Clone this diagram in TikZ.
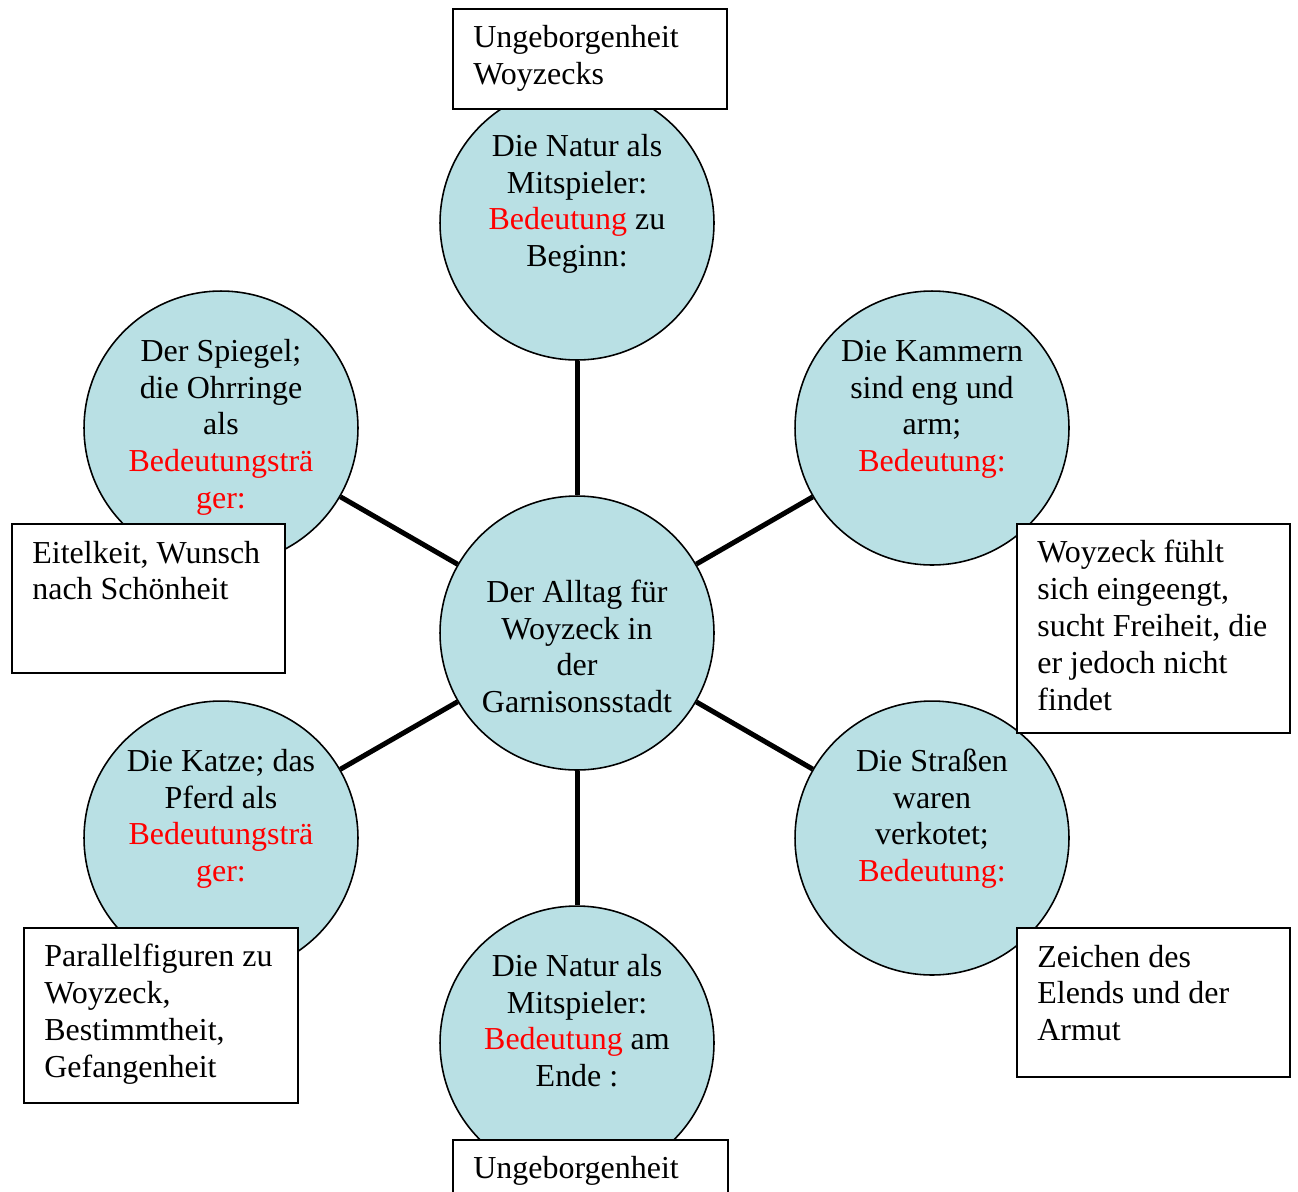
\documentclass[tikz,border=0pt]{standalone}
\usepackage{fontspec}
\setmainfont{Liberation Serif}
\definecolor{kreisblau}{RGB}{185,224,228}
\begin{document}
\begin{tikzpicture}[x=0.02cm,y=-0.02cm,
        kreis/.style={circle,draw,line width=0.9pt,fill=kreisblau,minimum size=5.48cm,inner sep=0pt},
        kasten/.style={rectangle,draw,line width=0.9pt,fill=white,inner sep=0pt,anchor=north west},
        ktext/.style={font=\fontsize{18.2pt}{20.95pt}\selectfont,align=center,anchor=base,inner sep=0pt},
        btext/.style={font=\fontsize{18.2pt}{20.95pt}\selectfont,align=left,anchor=base west,inner sep=0pt},
        linie/.style={line width=2.85pt}]
        \useasboundingbox (0,0) rectangle (1298,1191);
        \node[kreis] (mitte) at (577,633) {}; %mitte
        \node[kreis] (oben) at (577,223) {};
        \node[kreis] (unten) at (577,1043) {};
        \node[kreis] (obenlinks) at (221,428) {};
        \node[kreis] (obenrechts) at (932,428) {};
        \node[kreis] (untenlinks) at (221,838) {};
        \node[kreis] (untenrechts) at (932,838) {};
        \draw[linie] (mitte)--(oben); \draw[linie] (mitte)--(unten); %verbindungen
        \draw[linie] (mitte)--(obenlinks); \draw[linie] (mitte)--(obenrechts);
        \draw[linie] (mitte)--(untenlinks); \draw[linie] (mitte)--(untenrechts);
        % base = letzte zeile, daher (zeilen-1)*36.8 dazu
        \node[ktext] (mitte-t) at ([shift={(0,107+3*36.8)}]mitte.north) {Der Alltag für\\Woyzeck in\\der\\Garnisonsstadt};
        \node[ktext] (oben-t) at ([shift={(0,71+3*36.8)}]oben.north) {Die Natur als\\Mitspieler:\\\textcolor{red}{Bedeutung} zu\\Beginn:};
        \node[ktext] (unten-t) at ([shift={(0,71+3*36.8)}]unten.north) {Die Natur als\\Mitspieler:\\\textcolor{red}{Bedeutung} am\\Ende :};
        \node[ktext] (obenlinks-t) at ([shift={(0,71+4*36.8)}]obenlinks.north) {Der Spiegel;\\die Ohrringe\\als\\\textcolor{red}{Bedeutungsträ}\\\textcolor{red}{ger:}};
        \node[ktext] (obenrechts-t) at ([shift={(0,71+3*36.8)}]obenrechts.north) {Die Kammern\\sind eng und\\arm;\\\textcolor{red}{Bedeutung:}};
        \node[ktext] (untenlinks-t) at ([shift={(0,71+3*36.8)}]untenlinks.north) {Die Katze; das\\Pferd als\\\textcolor{red}{Bedeutungsträ}\\\textcolor{red}{ger:}};
        \node[ktext] (untenrechts-t) at ([shift={(0,71+3*36.8)}]untenrechts.north) {Die Straßen\\waren\\verkotet;\\\textcolor{red}{Bedeutung:}};
        \node[kasten,minimum width=5.48cm,minimum height=2cm] (k-oben) at (452,8) {}; %kaesten
        \node[kasten,minimum width=5.5cm,minimum height=2cm] (k-unten) at (452,1139) {};
        \node[kasten,minimum width=5.46cm,minimum height=2.98cm] (k-obenlinks) at (11,523) {};
        \node[kasten,minimum width=5.46cm,minimum height=4.18cm] (k-obenrechts) at (1016,523) {};
        \node[kasten,minimum width=5.48cm,minimum height=3.5cm] (k-untenlinks) at (23,927) {};
        \node[kasten,minimum width=5.46cm,minimum height=2.98cm] (k-untenrechts) at (1016,927) {};
        \node[btext] (k-oben-t) at ([shift={(21,40+36.8)}]k-oben.north west) {Ungeborgenheit\\Woyzecks};
        \node[btext] (k-unten-t) at ([shift={(21,39)}]k-unten.north west) {Ungeborgenheit};
        \node[btext] (k-obenlinks-t) at ([shift={(21,40+36.8)}]k-obenlinks.north west) {Eitelkeit, Wunsch\\nach Schönheit};
        \node[btext] (k-obenrechts-t) at ([shift={(21,40+4*36.8)}]k-obenrechts.north west) {Woyzeck fühlt\\sich eingeengt,\\sucht Freiheit, die\\er jedoch nicht\\findet};
        \node[btext] (k-untenlinks-t) at ([shift={(21,40+3*36.8)}]k-untenlinks.north west) {Parallelfiguren zu\\Woyzeck,\\Bestimmtheit,\\Gefangenheit};
        \node[btext] (k-untenrechts-t) at ([shift={(21,40+2*36.8)}]k-untenrechts.north west) {Zeichen des\\Elends und der\\Armut};
    \end{tikzpicture}
\end{document}
